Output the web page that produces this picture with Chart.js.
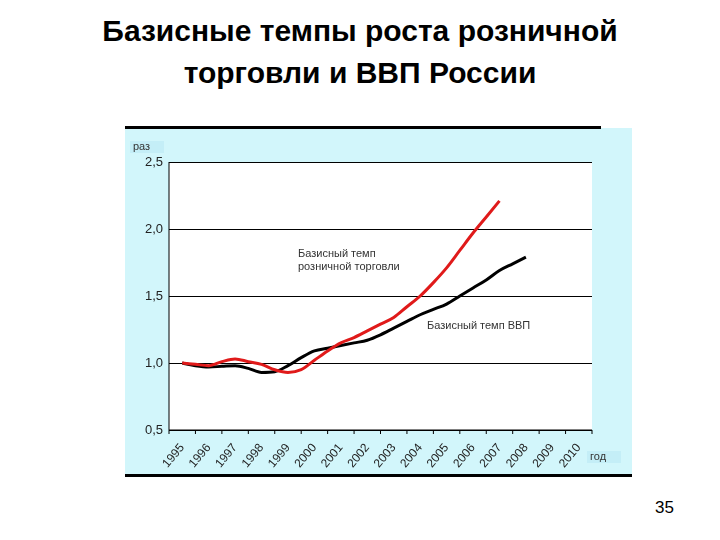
<!DOCTYPE html>
<html><head><meta charset="utf-8">
<script src="https://cdn.jsdelivr.net/npm/chart.js@4/dist/chart.umd.min.js"></script>
<style>html,body{margin:0;padding:0;background:#fff;width:720px;height:540px;overflow:hidden}
#t{position:absolute;left:0;top:10px;width:720px;text-align:center;font:bold 30px "Liberation Sans",Arial,sans-serif;line-height:42px;color:#000;box-sizing:border-box}
#n{position:absolute;left:655px;top:498px;font:17px "Liberation Sans",Arial,sans-serif}
canvas{position:absolute;left:0;top:0}</style></head><body>
<div id="t">Базисные темпы роста розничной<br>торговли и ВВП России</div>
<div id="n">35</div>
<canvas id="c" width="720" height="540"></canvas>
<script>
const yearLabels = ['1995','1996','1997','1998','1999','2000','2001','2002','2003','2004','2005','2006','2007','2008','2009','2010'];
const retailX = [1995,1995.5,1996,1996.5,1997,1997.5,1998,1998.5,1999,1999.5,2000,2000.5,2001,2001.5,2002,2002.5,2003,2003.5,2004,2004.5,2005,2005.5,2006,2006.5,2007];
const retailY = [1.00,0.99,0.98,1.01,1.03,1.01,0.99,0.95,0.93,0.95,1.02,1.09,1.15,1.19,1.24,1.29,1.34,1.42,1.50,1.60,1.71,1.84,1.97,2.09,2.21];
const gdpX = [1995,1995.5,1996,1996.5,1997,1997.5,1998,1998.5,1999,1999.5,2000,2000.5,2001,2001.5,2002,2002.5,2003,2003.5,2004,2004.5,2005,2005.5,2006,2006.5,2007,2007.5,2008];
const gdpY = [1.00,0.98,0.97,0.975,0.98,0.96,0.93,0.935,0.98,1.04,1.09,1.11,1.13,1.15,1.17,1.21,1.26,1.31,1.36,1.40,1.44,1.50,1.56,1.62,1.69,1.74,1.79];
const pts=(xs,ys)=>xs.map((x,i)=>({x,y:ys[i]}));
const deco={id:'deco',
 beforeDraw(c){const g=c.ctx,a=c.chartArea;g.save();
  g.fillStyle='#d2f6fb';g.fillRect(125,128,507,347);
  g.fillStyle='#fff';g.fillRect(a.left,a.top,a.right-a.left,a.bottom-a.top);
  g.fillStyle='#000';g.fillRect(125,126,476,3);g.fillRect(125,474,507,3);
  g.fillStyle='#c4eef7';g.fillRect(130,141,34,12);g.fillRect(587,451,34,12);
  g.restore();},
 afterDraw(c){const g=c.ctx,a=c.chartArea,xs=c.scales.x;g.save();
  g.strokeStyle='#000';g.lineWidth=1;g.beginPath();
  for(let i=0;i<=16;i++){const px=xs.getPixelForValue(1994.5+i);g.moveTo(px,a.bottom);g.lineTo(px,a.bottom+4);}
  g.moveTo(a.left,a.bottom);g.lineTo(a.right,a.bottom);g.moveTo(a.left,a.top);g.lineTo(a.left,a.bottom);g.stroke();
  g.fillStyle='#333';g.font='11px "Liberation Sans",Arial,sans-serif';g.textBaseline='middle';
  g.fillText('раз',133,147);g.fillText('год',590,457);
  g.fillText('Базисный темп',298,254);g.fillText('розничной торговли',298,267);
  g.fillText('Базисный темп ВВП',427,326);g.restore();}};
new Chart(document.getElementById('c'),{type:'line',
 data:{datasets:[
  {data:pts(retailX,retailY),borderColor:'#e01a1a',borderWidth:3,pointRadius:0,tension:0.4,cubicInterpolationMode:'monotone'},
  {data:pts(gdpX,gdpY),borderColor:'#000',borderWidth:3,pointRadius:0,tension:0.4,cubicInterpolationMode:'monotone'}]},
 options:{responsive:false,animation:false,events:[],
  layout:{padding:{left:125,top:162,right:128,bottom:60}},
  plugins:{legend:{display:false},tooltip:{enabled:false}},
  scales:{
   x:{type:'linear',min:1994.5,max:2010.5,grid:{display:false},border:{display:false},
      afterBuildTicks(s){s.ticks=yearLabels.map(v=>({value:+v}));},
      afterFit(s){s.height=50;},
      ticks:{autoSkip:false,maxRotation:50,minRotation:50,color:'#222',font:{family:'Liberation Sans',size:12},callback:v=>String(v)}},
   y:{min:0.5,max:2.5,afterFit(s){s.width=44;},border:{display:false},
      grid:{color:'#000',lineWidth:1,drawTicks:false},
      ticks:{stepSize:0.5,padding:6,color:'#222',font:{family:'Liberation Sans',size:13},callback:v=>v.toFixed(1).replace('.',',')}}}},
 plugins:[deco]});
</script></body></html>
